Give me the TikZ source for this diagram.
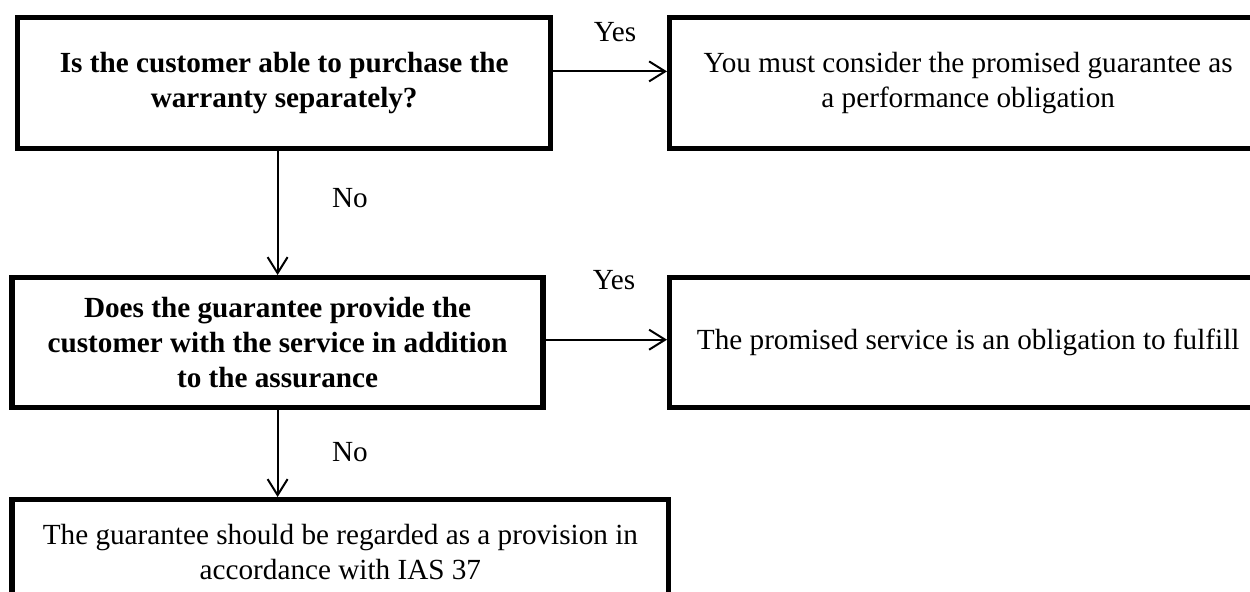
\documentclass[tikz,border=0pt]{standalone}
\usepackage{fontspec}
\setmainfont{Liberation Serif}
\usetikzlibrary{positioning, calc, arrows.meta}
\tikzset{box/.style={draw, line width=2.7pt, align=center, inner sep=0pt, anchor=north west, font=\fontsize{14.6}{17.5}\selectfont}}
\tikzset{question/.style={box, font=\fontsize{14.6}{17.5}\selectfont\bfseries}}
\tikzset{flow/.style={-{Straight Barb[length=8pt,width=10pt]}, line width=1pt}}
\tikzset{answer/.style={font=\fontsize{14.6}{17.5}\selectfont}}

\begin{document}
\begin{tikzpicture}[x=1pt, y=1pt]

      \useasboundingbox (0,0) rectangle (625,-296);

      % QUESTIONS AND OUTCOMES

      \node[question, minimum width=266.5pt, minimum height=65.5pt] (q1) at (7.5,-7.5)
        {Is the customer able to purchase the\\warranty separately?};
      \node[box, minimum width=298.5pt, minimum height=65.5pt] (a1) at (333.5,-7.5)
        {You must consider the promised guarantee as\\a performance obligation};
      \node[question, minimum width=265.5pt, minimum height=65pt] (q2) at (4.7,-137.5)
        {Does the guarantee provide the\\customer with the service in addition\\to the assurance};
      \node[box, minimum width=298.5pt, minimum height=65pt] (a2) at (333.5,-137.5)
        {The promised service is an obligation to fulfill};
      \node[box, minimum width=328.3pt, minimum height=52pt] (r3) at (4.7,-248.5)
        {The guarantee should be regarded as a provision in\\accordance with IAS 37};

      % LABELS

      \node[answer] (yesOne) at (307.5,-16) {Yes};
      \node[answer] (yesTwo) at (307,-140) {Yes};
      \node[answer] (noOne) at (175,-99) {No};
      \node[answer] (noTwo) at (175,-226) {No};

      % ARROWS
      \draw[flow] ([yshift=5.9pt]q1.east) -- ([yshift=5.9pt]q1.east -| a1.west);
      \draw[flow] ([yshift=1.5pt]q2.east) -- ([yshift=1.5pt]q2.east -| a2.west);
      \draw[flow] (q2.north |- q1.south) -- (q2.north);
      \draw[flow] (q2.south) -- (q2.south |- r3.north);

\end{tikzpicture}
\end{document}
